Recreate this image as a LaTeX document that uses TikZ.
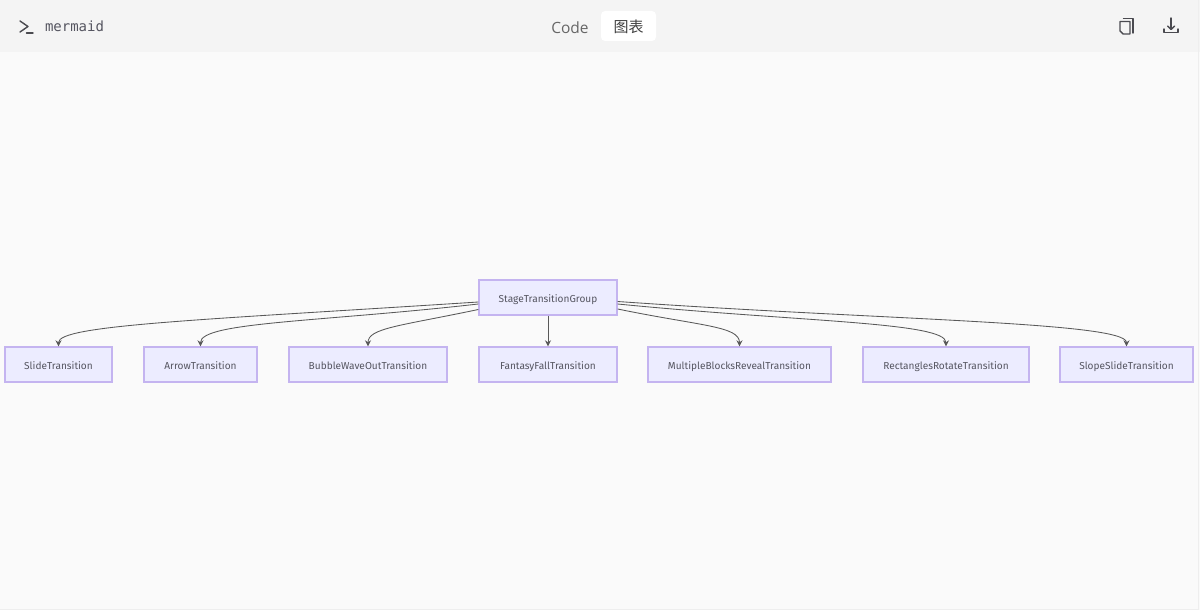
\documentclass[tikz,border=0pt]{standalone}
\usepackage{fontspec}
\setmainfont{Open Sans}
\newfontfamily\cjkfont{Noto Sans CJK SC}
\newfontfamily\monofont{DejaVu Sans Mono}
\newfontfamily\boxfont{Fira Sans}
\usetikzlibrary{arrows.meta, positioning}
\definecolor{pagebg}{HTML}{FAFAFA}
\definecolor{headbg}{HTML}{F4F4F4}
\definecolor{edgeline}{HTML}{EEEEEE}
\definecolor{boxfill}{HTML}{ECECFF}
\definecolor{boxline}{HTML}{C4B4F0}
\definecolor{inktext}{HTML}{555560}
\definecolor{iconink}{HTML}{4A4A50}

\begin{document}
\begin{tikzpicture}[
        x=1pt, y=-1pt,
        classbox/.style={rectangle, draw=boxline, fill=boxfill, line width=1.4pt, minimum height=35pt, inner sep=0pt, text height=10pt, text depth=1pt, text=inktext, font=\boxfont\fontsize{10.1}{11}\selectfont},
        arrow/.style={-{Stealth[length=6pt, width=6pt]}, line width=0.85pt, draw=black!65},
        icon/.style={draw=iconink, line width=1.4pt, line cap=round, line join=round}
    ]
    % page and header
    \useasboundingbox (0,0) rectangle (1200,610);
    \fill [pagebg] (0,0) rectangle (1200,610);
    \fill [headbg] (0,0) rectangle (1200,52);
    \fill [white, rounded corners=4pt] (601,11) rectangle (656,41);
    \draw [edgeline, line width=1pt] (1198.5,0) -- (1198.5,609.5) -- (0,609.5);

    % header texts
    \node (title) at (74.5,26) [inner sep=0pt, text=inktext, font=\monofont\fontsize{14}{15}\selectfont] {mermaid};
    \node (code) at (570,27.5) [inner sep=0pt, text=black!60, font=\fontsize{15.5}{17}\selectfont] {Code};
    \node (chart) at (628.5,27) [inner sep=0pt, text=black!75, font=\cjkfont\fontsize{15}{17}\selectfont] {图表};

    % header icons
    \draw [icon] (20,21) -- (28,26.5) -- (20,32);
    \draw [icon] (26.5,33) -- (33,33);
    \draw [icon] (1123.5,18.5) -- (1133,18.5) -- (1133,33);
    \draw [icon] (1120,21.5) -- (1130,21.5) -- (1130,34) -- (1123,34) -- (1120,31) -- cycle;
    \draw [icon] (1171,18) -- (1171,29);
    \draw [icon] (1167.5,26) -- (1171,29.5) -- (1174.5,26);
    \draw [icon] (1164,29) -- (1164,32.5) -- (1178,32.5) -- (1178,29);

    % classes
    \node (stage) at (548,297.5) [classbox, minimum width=138pt] {StageTransitionGroup};
    \node (slide) at (58.5,364.5) [classbox, minimum width=107pt] {SlideTransition};
    \node (arrowt) at (200.5,364.5) [classbox, minimum width=113pt] {ArrowTransition};
    \node (bubble) at (368,364.5) [classbox, minimum width=158pt] {BubbleWaveOutTransition};
    \node (fantasy) at (548,364.5) [classbox, minimum width=138pt] {FantasyFallTransition};
    \node (multiple) at (739.5,364.5) [classbox, minimum width=183pt] {MultipleBlocksRevealTransition};
    \node (rects) at (946,364.5) [classbox, minimum width=166pt] {RectanglesRotateTransition};
    \node (slope) at (1126.5,364.5) [classbox, minimum width=133pt] {SlopeSlideTransition};

    % edges
    \draw [arrow] ([yshift=-4.5pt]stage.west) .. controls (200,320) and (58.5,325) .. (slide.north);
    \draw [arrow] ([yshift=-6.5pt]stage.west) .. controls (320,322) and (200.5,322) .. (arrowt.north);
    \draw [arrow] ([yshift=-12pt]stage.west) .. controls (400,326) and (368,328) .. (bubble.north);
    \draw [arrow] (stage.south) -- (fantasy.north);
    \draw [arrow] ([yshift=-11.5pt]stage.east) .. controls (700,326) and (739.5,326) .. (multiple.north);
    \draw [arrow] ([yshift=-6.5pt]stage.east) .. controls (800,322) and (946,322) .. (rects.north);
    \draw [arrow] ([yshift=-4pt]stage.east) .. controls (880,320) and (1126.5,322) .. (slope.north);
\end{tikzpicture}
\end{document}
